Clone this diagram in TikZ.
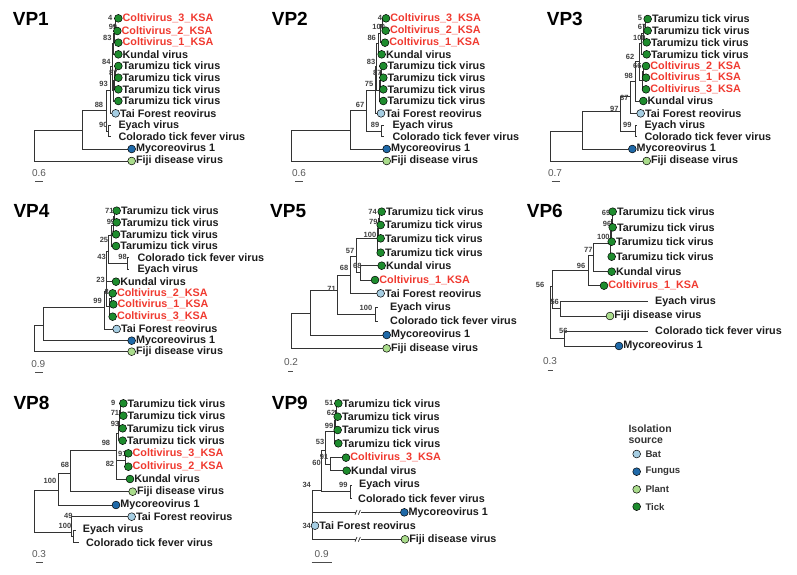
\documentclass[tikz,border=0pt]{standalone}
\usepackage{fontspec}
\setmainfont{Liberation Sans}
\pgfdeclarelayer{bg}
\pgfsetlayers{bg,main}
\definecolor{ksared}{RGB}{240,58,48}
\definecolor{cTick}{RGB}{30,140,46}
\definecolor{cBat}{RGB}{166,206,227}
\definecolor{cFungus}{RGB}{31,105,168}
\definecolor{cPlant}{RGB}{170,220,140}
\definecolor{ink}{RGB}{28,28,28}
\tikzset{
  lab/.style={font=\bfseries\fontsize{10.8}{12}\selectfont, text=ink, inner sep=0pt},
  ksa/.style={text=ksared},
  tipc/.style={circle, draw=black, line width=0.5pt, minimum size=7.8pt, inner sep=0pt, label distance=4.4pt},
  srcTick/.style={tipc, fill=cTick},
  srcBat/.style={tipc, fill=cBat},
  srcFungus/.style={tipc, fill=cFungus},
  srcPlant/.style={tipc, fill=cPlant},
  branch/.style={draw=black!80, line width=0.75pt},
  bsl/.style={font=\bfseries\fontsize{7.5}{8}\selectfont, text=black!75, inner sep=0pt},
  ttl/.style={font=\bfseries\fontsize{19}{22}\selectfont, inner sep=0pt, anchor=west},
  scl/.style={font=\fontsize{10}{12}\selectfont, text=black!65, inner sep=0pt},
  sbar/.style={draw=black!70, line width=0.9pt},
  panel/.style={x=0.33333pt, y=-0.33333pt},
  legt/.style={font=\bfseries\fontsize{10.5}{12}\selectfont, text=black!80, inner sep=0pt, anchor=west},
  legi/.style={font=\bfseries\fontsize{9.6}{11}\selectfont, text=black!80, inner sep=0pt, anchor=west},
}
\newcommand\tp[5]{\node[#4,label={[lab,#5]right:#3}] (#1) at (#2) {};}
\newcommand\tq[4]{\coordinate (#1) at (#2); \node[lab,anchor=west] (#1t) at (#3) {#4};}
\begin{document}
\begin{tikzpicture}[x=1pt,y=-1pt]
\path[use as bounding box] (0,0) rectangle (797,574);

% ---------------- VP1 ----------------
\begin{scope}[xshift=0pt,yshift=0pt,panel]
\node[ttl] (aT) at (38,57) {VP1};
\foreach \px/\py/\t [count=\i] in {331/55/4, 339/80/99, 322/115/83, 319/186/84, 340/220/87, 311/252/93, 297/316/88, 310/376/90}
  \node[bsl] (ab\i) at (\px,\py) {\t};
\tp{a1}{355,55}{Coltivirus\_3\_KSA}{srcTick}{ksa}
\tp{a2}{352,93}{Coltivirus\_2\_KSA}{srcTick}{ksa}
\tp{a3}{355,128}{Coltivirus\_1\_KSA}{srcTick}{ksa}
\tp{a4}{355,163}{Kundal virus}{srcTick}{}
\tp{a5}{355,198}{Tarumizu tick virus}{srcTick}{}
\tp{a6}{355,233}{Tarumizu tick virus}{srcTick}{}
\tp{a7}{355,268}{Tarumizu tick virus}{srcTick}{}
\tp{a8}{355,303}{Tarumizu tick virus}{srcTick}{}
\tp{a9}{347,340}{Tai Forest reovirus}{srcBat}{}
\tq{a10}{332,377}{355,377}{Eyach virus}
\tq{a11}{332,410}{355,410}{Colorado tick fever virus}
\tp{a12}{395,447}{Mycoreovirus 1}{srcFungus}{}
\tp{a13}{395,483}{Fiji disease virus}{srcPlant}{}
\coordinate (an1) at (345,74); \coordinate (an2) at (342,100); \coordinate (an3) at (339,130);
\coordinate (an4) at (345,215); \coordinate (an5) at (342,240); \coordinate (an6) at (339,270);
\coordinate (aE) at (336,200); \coordinate (aC) at (331,270); \coordinate (aD) at (324,393);
\coordinate (aB) at (318,330); \coordinate (aA) at (248,390); \coordinate (aR) at (103,436);
\begin{pgfonlayer}{bg}
\foreach \p/\c in {an1/a1, an1/a2, an2/an1, an2/a3, an3/an2, an3/a4, an4/a5, an4/a6, an5/an4, an5/a7, an6/an5, an6/a8, aE/an3, aE/an6, aC/aE, aC/a9, aD/a10, aD/a11, aB/aC, aB/aD, aA/aB, aA/a12, aR/aA, aR/a13}
  \draw[branch] (\p) |- (\c);
\end{pgfonlayer}
\coordinate (asl) at (105,545); \coordinate (asr) at (130,545);
\draw[sbar] (asl) -- (asr);
\node[scl] (as) at (117,520) {0.6};
\end{scope}

% ---------------- VP2 ----------------
\begin{scope}[xshift=260pt,yshift=0pt,panel]
\node[ttl] (bT) at (35,57) {VP2};
\foreach \px/\py/\t [count=\i] in {360/55/4, 356/80/100, 335/115/86, 333/185/83, 352/218/87, 327/252/75, 300/316/67, 345/376/89}
  \node[bsl] (bb\i) at (\px,\py) {\t};
\tp{b1}{378,55}{Coltivirus\_3\_KSA}{srcTick}{ksa}
\tp{b2}{377,92}{Coltivirus\_2\_KSA}{srcTick}{ksa}
\tp{b3}{375,128}{Coltivirus\_1\_KSA}{srcTick}{ksa}
\tp{b4}{365,163}{Kundal virus}{srcTick}{}
\tp{b5}{370,198}{Tarumizu tick virus}{srcTick}{}
\tp{b6}{370,233}{Tarumizu tick virus}{srcTick}{}
\tp{b7}{370,268}{Tarumizu tick virus}{srcTick}{}
\tp{b8}{370,303}{Tarumizu tick virus}{srcTick}{}
\tp{b9}{363,340}{Tai Forest reovirus}{srcBat}{}
\tq{b10}{372,377}{397,377}{Eyach virus}
\tq{b11}{372,410}{397,410}{Colorado tick fever virus}
\tp{b12}{380,447}{Mycoreovirus 1}{srcFungus}{}
\tp{b13}{380,483}{Fiji disease virus}{srcPlant}{}
\coordinate (bn1) at (368,74); \coordinate (bn2) at (362,100); \coordinate (bn3) at (355,130);
\coordinate (bn4) at (364,215); \coordinate (bn5) at (361,240); \coordinate (bn6) at (357,270);
\coordinate (bE) at (350,200); \coordinate (bC) at (345,270); \coordinate (bD) at (365,393);
\coordinate (bB) at (320,330); \coordinate (bA) at (270,390); \coordinate (bR) at (95,436);
\begin{pgfonlayer}{bg}
\foreach \p/\c in {bn1/b1, bn1/b2, bn2/bn1, bn2/b3, bn3/bn2, bn3/b4, bn4/b5, bn4/b6, bn5/bn4, bn5/b7, bn6/bn5, bn6/b8, bE/bn3, bE/bn6, bC/bE, bC/b9, bD/b10, bD/b11, bB/bC, bB/bD, bA/bB, bA/b12, bR/bA, bR/b13}
  \draw[branch] (\p) |- (\c);
\end{pgfonlayer}
\coordinate (bsl) at (105,545); \coordinate (bsr) at (128,545);
\draw[sbar] (bsl) -- (bsr);
\node[scl] (bs) at (117,520) {0.6};
\end{scope}

% ---------------- VP3 ----------------
\begin{scope}[xshift=520pt,yshift=0pt,panel]
\node[ttl] (cT) at (80,57) {VP3};
\foreach \px/\py/\t [count=\i] in {360/55/5, 366/82/67, 358/115/100, 330/170/62, 352/197/66, 326/228/98, 313/295/87, 283/326/97, 322/376/99}
  \node[bsl] (cb\i) at (\px,\py) {\t};
\tp{c1}{383,57}{Tarumizu tick virus}{srcTick}{}
\tp{c2}{383,92}{Tarumizu tick virus}{srcTick}{}
\tp{c3}{380,127}{Tarumizu tick virus}{srcTick}{}
\tp{c4}{380,163}{Tarumizu tick virus}{srcTick}{}
\tp{c5}{378,198}{Coltivirus\_2\_KSA}{srcTick}{ksa}
\tp{c6}{378,233}{Coltivirus\_1\_KSA}{srcTick}{ksa}
\tp{c7}{378,268}{Coltivirus\_3\_KSA}{srcTick}{ksa}
\tp{c8}{370,303}{Kundal virus}{srcTick}{}
\tp{c9}{362,340}{Tai Forest reovirus}{srcBat}{}
\tq{c10}{350,377}{373,377}{Eyach virus}
\tq{c11}{350,410}{373,410}{Colorado tick fever virus}
\tp{c12}{337,447}{Mycoreovirus 1}{srcFungus}{}
\tp{c13}{380,483}{Fiji disease virus}{srcPlant}{}
\coordinate (cn1) at (376,74); \coordinate (cn2) at (370,100); \coordinate (cn3) at (364,130);
\coordinate (cg1) at (371,215); \coordinate (cg2) at (367,240); \coordinate (cH) at (357,185);
\coordinate (cE) at (347,245); \coordinate (cC) at (330,290); \coordinate (cD) at (345,393);
\coordinate (cB) at (300,335); \coordinate (cA) at (187,395); \coordinate (cR) at (90,440);
\begin{pgfonlayer}{bg}
\foreach \p/\c in {cn1/c1, cn1/c2, cn2/cn1, cn2/c3, cn3/cn2, cn3/c4, cg1/c5, cg1/c6, cg2/cg1, cg2/c7, cH/cn3, cH/cg2, cE/cH, cE/c8, cC/cE, cC/c9, cD/c10, cD/c11, cB/cC, cB/cD, cA/cB, cA/c12, cR/cA, cR/c13}
  \draw[branch] (\p) |- (\c);
\end{pgfonlayer}
\coordinate (csl) at (95,545); \coordinate (csr) at (120,545);
\draw[sbar] (csl) -- (csr);
\node[scl] (cs) at (105,520) {0.7};
\end{scope}

% ---------------- VP4 ----------------
\begin{scope}[xshift=0pt,yshift=-185pt,panel]
\node[ttl] (dT) at (40,77) {VP4};
\foreach \px/\py/\t [count=\i] in {328/77/71, 333/112/99, 338/148/8, 312/165/25, 305/215/43, 368/215/98, 302/285/23, 320/322/8, 293/348/99}
  \node[bsl] (db\i) at (\px,\py) {\t};
\tp{d1}{350,77}{Tarumizu tick virus}{srcTick}{}
\tp{d2}{350,112}{Tarumizu tick virus}{srcTick}{}
\tp{d3}{348,148}{Tarumizu tick virus}{srcTick}{}
\tp{d4}{348,183}{Tarumizu tick virus}{srcTick}{}
\tq{d5}{387,218}{412,218}{Colorado tick fever virus}
\tq{d6}{387,253}{412,253}{Eyach virus}
\tp{d7}{348,290}{Kundal virus}{srcTick}{}
\tp{d8}{338,325}{Coltivirus\_2\_KSA}{srcTick}{ksa}
\tp{d9}{340,358}{Coltivirus\_1\_KSA}{srcTick}{ksa}
\tp{d10}{338,395}{Coltivirus\_3\_KSA}{srcTick}{ksa}
\tp{d11}{350,432}{Tai Forest reovirus}{srcBat}{}
\tp{d12}{395,467}{Mycoreovirus 1}{srcFungus}{}
\tp{d13}{395,500}{Fiji disease virus}{srcPlant}{}
\coordinate (df1) at (344,95); \coordinate (df2) at (340,120); \coordinate (dF) at (335,150);
\coordinate (dCE) at (383,235); \coordinate (dE) at (325,200); \coordinate (dD) at (320,250);
\coordinate (dk1) at (333,340); \coordinate (dK) at (328,365); \coordinate (dC) at (318,320);
\coordinate (dB) at (313,368); \coordinate (dA) at (130,420); \coordinate (dR) at (103,460);
\begin{pgfonlayer}{bg}
\foreach \p/\c in {df1/d1, df1/d2, df2/df1, df2/d3, dF/df2, dF/d4, dCE/d5, dCE/d6, dE/dF, dE/dCE, dD/dE, dD/d7, dk1/d8, dk1/d9, dK/dk1, dK/d10, dC/dD, dC/dK, dB/dC, dB/d11, dA/dB, dA/d12, dR/dA, dR/d13}
  \draw[branch] (\p) |- (\c);
\end{pgfonlayer}
\coordinate (dsl) at (105,563); \coordinate (dsr) at (128,563);
\draw[sbar] (dsl) -- (dsr);
\node[scl] (ds) at (115,538) {0.9};
\end{scope}

% ---------------- VP5 ----------------
\begin{scope}[xshift=260pt,yshift=-185pt,panel]
\node[ttl] (eT) at (30,77) {VP5};
\foreach \px/\py/\t [count=\i] in {338/80/74, 340/112/79, 330/150/100, 270/198/57, 252/250/68, 292/244/68, 215/311/71, 318/370/100}
  \node[bsl] (eb\i) at (\px,\py) {\t};
\tp{e1}{365,80}{Tarumizu tick virus}{srcTick}{}
\tp{e2}{362,120}{Tarumizu tick virus}{srcTick}{}
\tp{e3}{362,160}{Tarumizu tick virus}{srcTick}{}
\tp{e4}{362,203}{Tarumizu tick virus}{srcTick}{}
\tp{e5}{365,242}{Kundal virus}{srcTick}{}
\tp{e6}{345,285}{Coltivirus\_1\_KSA}{srcTick}{ksa}
\tp{e7}{362,325}{Tai Forest reovirus}{srcBat}{}
\tq{e8}{355,368}{390,368}{Eyach virus}
\tq{e9}{355,408}{390,408}{Colorado tick fever virus}
\tp{e10}{380,450}{Mycoreovirus 1}{srcFungus}{}
\tp{e11}{380,490}{Fiji disease virus}{srcPlant}{}
\coordinate (ef1) at (358,100); \coordinate (ef2) at (355,130); \coordinate (eF) at (352,160);
\coordinate (eG) at (302,262); \coordinate (eE) at (290,215); \coordinate (eC) at (270,270);
\coordinate (eD) at (345,388); \coordinate (eB) at (232,315); \coordinate (eA) at (152,385);
\coordinate (eR) at (95,440);
\begin{pgfonlayer}{bg}
\foreach \p/\c in {ef1/e1, ef1/e2, ef2/ef1, ef2/e3, eF/ef2, eF/e4, eG/e5, eG/e6, eE/eF, eE/eG, eC/eE, eC/e7, eD/e8, eD/e9, eB/eC, eB/eD, eA/eB, eA/e10, eR/eA, eR/e11}
  \draw[branch] (\p) |- (\c);
\end{pgfonlayer}
\coordinate (esl) at (85,558); \coordinate (esr) at (100,558);
\draw[sbar] (esl) -- (esr);
\node[scl] (es) at (93,530) {0.2};
\end{scope}

% ---------------- VP6 ----------------
\begin{scope}[xshift=520pt,yshift=-185pt,panel]
\node[ttl] (fT) at (20,77) {VP6};
\foreach \px/\py/\t [count=\i] in {258/85/69, 261/118/96, 250/157/100, 205/195/77, 183/243/96, 60/300/56, 104/352/56, 130/438/56}
  \node[bsl] (fb\i) at (\px,\py) {\t};
\tp{f1}{278,80}{Tarumizu tick virus}{srcTick}{}
\tp{f2}{278,127}{Tarumizu tick virus}{srcTick}{}
\tp{f3}{275,170}{Tarumizu tick virus}{srcTick}{}
\tp{f4}{275,215}{Tarumizu tick virus}{srcTick}{}
\tp{f5}{275,260}{Kundal virus}{srcTick}{}
\tp{f6}{252,302}{Coltivirus\_1\_KSA}{srcTick}{ksa}
\tq{f7}{385,350}{405,350}{Eyach virus}
\tp{f8}{270,393}{Fiji disease virus}{srcPlant}{}
\tq{f9}{385,438}{405,438}{Colorado tick fever virus}
\tp{f10}{297,483}{Mycoreovirus 1}{srcFungus}{}
\coordinate (fd1) at (276,103); \coordinate (fd2) at (274,140); \coordinate (fD) at (272,175);
\coordinate (fC) at (220,210); \coordinate (fB) at (205,255); \coordinate (fE) at (120,370);
\coordinate (fG) at (96,305); \coordinate (fF) at (133,460); \coordinate (fR) at (90,390);
\begin{pgfonlayer}{bg}
\foreach \p/\c in {fd1/f1, fd1/f2, fd2/fd1, fd2/f3, fD/fd2, fD/f4, fC/fD, fC/f5, fB/fC, fB/f6, fE/f7, fE/f8, fG/fB, fG/fE, fF/f9, fF/f10, fR/fG, fR/fF}
  \draw[branch] (\p) |- (\c);
\end{pgfonlayer}
\coordinate (fsl) at (83,557); \coordinate (fsr) at (98,557);
\draw[sbar] (fsl) -- (fsr);
\node[scl] (fs) at (90,527) {0.3};
\end{scope}

% ---------------- VP8 ----------------
\begin{scope}[xshift=0pt,yshift=-380pt,panel]
\node[ttl] (gT) at (40,70) {VP8};
\foreach \px/\py/\t [count=\i] in {340/70/9, 345/98/71, 345/133/93, 318/190/98, 367/222/91, 330/252/82, 195/255/68, 150/302/100, 205/408/49, 195/437/100}
  \node[bsl] (gb\i) at (\px,\py) {\t};
\tp{g1}{370,70}{Tarumizu tick virus}{srcTick}{}
\tp{g2}{370,107}{Tarumizu tick virus}{srcTick}{}
\tp{g3}{368,145}{Tarumizu tick virus}{srcTick}{}
\tp{g4}{368,182}{Tarumizu tick virus}{srcTick}{}
\tp{g5}{385,220}{Coltivirus\_3\_KSA}{srcTick}{ksa}
\tp{g6}{385,260}{Coltivirus\_2\_KSA}{srcTick}{ksa}
\tp{g7}{390,297}{Kundal virus}{srcTick}{}
\tp{g8}{398,335}{Fiji disease virus}{srcPlant}{}
\tp{g9}{348,375}{Mycoreovirus 1}{srcFungus}{}
\tp{g10}{395,410}{Tai Forest reovirus}{srcBat}{}
\tq{g11}{228,450}{248,450}{Eyach virus}
\tq{g12}{236,488}{258,488}{Colorado tick fever virus}
\coordinate (gd1) at (362,90); \coordinate (gd2) at (359,125); \coordinate (gD) at (356,160);
\coordinate (gF) at (375,240); \coordinate (gE) at (350,265); \coordinate (gC) at (348,210);
\coordinate (gB) at (212,280); \coordinate (gA) at (175,330); \coordinate (gM) at (220,468);
\coordinate (gL) at (213,458); \coordinate (gR) at (103,400);
\begin{pgfonlayer}{bg}
\foreach \p/\c in {gd1/g1, gd1/g2, gd2/gd1, gd2/g3, gD/gd2, gD/g4, gF/g5, gF/g6, gE/gF, gE/g7, gC/gD, gC/gE, gB/gC, gB/g8, gA/gB, gA/g9, gM/g11, gM/g12, gL/g10, gL/gM, gR/gA, gR/gL}
  \draw[branch] (\p) |- (\c);
\end{pgfonlayer}
\coordinate (gsl) at (108,548); \coordinate (gsr) at (130,548);
\draw[sbar] (gsl) -- (gsr);
\node[scl] (gs) at (117,522) {0.3};
\end{scope}

% ---------------- VP9 ----------------
\begin{scope}[xshift=260pt,yshift=-380pt,panel]
\node[ttl] (hT) at (35,70) {VP9};
\foreach \px/\py/\t [count=\i] in {207/70/51, 213/100/62, 207/137/99, 180/186/53, 192/230/91, 170/250/60, 250/316/99, 140/315/34, 140/437/34}
  \node[bsl] (hb\i) at (\px,\py) {\t};
\tp{h1}{235,70}{Tarumizu tick virus}{srcTick}{}
\tp{h2}{233,110}{Tarumizu tick virus}{srcTick}{}
\tp{h3}{233,150}{Tarumizu tick virus}{srcTick}{}
\tp{h4}{235,190}{Tarumizu tick virus}{srcTick}{}
\tp{h5}{258,233}{Coltivirus\_3\_KSA}{srcTick}{ksa}
\tp{h6}{260,272}{Kundal virus}{srcTick}{}
\tq{h7}{275,315}{297,315}{Eyach virus}
\tq{h8}{275,355}{294,355}{Colorado tick fever virus}
\tp{h9}{433,397}{Mycoreovirus 1}{srcFungus}{}
\tp{h10}{165,437}{Tai Forest reovirus}{srcBat}{}
\tp{h11}{435,478}{Fiji disease virus}{srcPlant}{}
\coordinate (hn1) at (230,90); \coordinate (hn2) at (227,120); \coordinate (hN) at (223,155);
\coordinate (hK) at (210,252); \coordinate (hO) at (197,210); \coordinate (hEC) at (270,335);
\coordinate (hP) at (185,330); \coordinate (hR) at (157,400);
\begin{pgfonlayer}{bg}
\foreach \p/\c in {hn1/h1, hn1/h2, hn2/hn1, hn2/h3, hN/hn2, hN/h4, hK/h5, hK/h6, hO/hN, hO/hK, hEC/h7, hEC/h8, hP/hO, hP/hEC, hR/hP, hR/h9, hR/h10, hR/h11}
  \draw[branch] (\p) |- (\c);
\end{pgfonlayer}
\foreach \yy in {397,478} {
  \fill[white] (287,\yy-7) rectangle (303,\yy+7);
  \draw[branch] (285,\yy+7) -- (291,\yy-7) (295,\yy+7) -- (301,\yy-7);
}
\coordinate (hsl) at (155,548); \coordinate (hsr) at (215,548);
\draw[sbar] (hsl) -- (hsr);
\node[scl] (hs) at (185,522) {0.9};
\end{scope}

% ---------------- Legend ----------------
\begin{scope}[xshift=560pt,yshift=-400pt,panel]
\node[legt] (lt1) at (205,87) {Isolation};
\node[legt] (lt2) at (205,123) {source};
\node[srcBat] (l1) at (230,162) {}; \node[legi] (l1t) at (256,162) {Bat};
\node[srcFungus] (l2) at (230,215) {}; \node[legi] (l2t) at (256,215) {Fungus};
\node[srcPlant] (l3) at (230,268) {}; \node[legi] (l3t) at (256,268) {Plant};
\node[srcTick] (l4) at (230,320) {}; \node[legi] (l4t) at (256,320) {Tick};
\end{scope}
\end{tikzpicture}
\end{document}
